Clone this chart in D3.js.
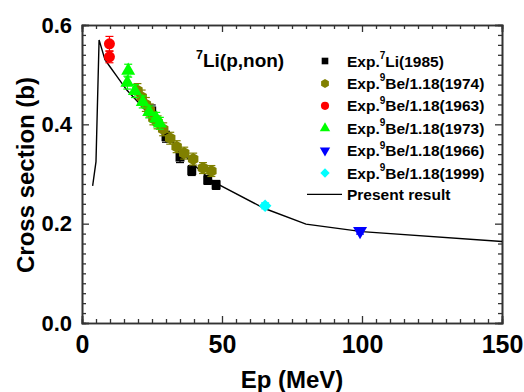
<!DOCTYPE html>
<html>
<head>
<meta charset="utf-8">
<script src="https://cdn.jsdelivr.net/npm/d3@7"></script>
<style>
  html, body { margin: 0; padding: 0; background: #fff; }
  svg { display: block; font-family: "Liberation Sans", Arial, sans-serif; font-weight: bold; }
</style>
</head>
<body>
<div id="chart"></div>
<script>
// present result (calculated curve)
const curveE = [3.8, 5.0, 6.1, 8.2, 10, 12.4, 16, 20, 25, 30, 35, 40, 45, 48, 65, 80, 100, 150];
const curveXS = [0.276, 0.325, 0.570, 0.530, 0.516, 0.497, 0.469, 0.445, 0.413, 0.380, 0.347, 0.318, 0.293, 0.281, 0.231, 0.199, 0.184, 0.164];

// experimental data
const li1985E = [24.9, 30.0, 35.0, 39.2, 44.9, 47.9];
const li1985XS = [0.427, 0.375, 0.334, 0.307, 0.288, 0.278];
const li1985Err = [0.012, 0.011, 0.011, 0.010, 0.009, 0.009];

const be1974E = [19.8, 21.3, 22.8, 24.2, 25.5, 27.0, 29.0, 31.5, 33.8, 36.5, 39.7, 43.2, 46.2];
const be1974XS = [0.468, 0.455, 0.440, 0.428, 0.412, 0.404, 0.390, 0.372, 0.355, 0.342, 0.330, 0.312, 0.306];
const be1974Err = [0.014, 0.014, 0.014, 0.013, 0.013, 0.013, 0.013, 0.012, 0.012, 0.012, 0.012, 0.011, 0.011];

const be1963E = [9.8, 9.8];
const be1963XS = [0.562, 0.536];
const be1963Err = [0.015, 0.012];

const be1973E = [16.5, 16.2, 18.9, 21.7, 24.0, 26.5, 27.8];
const be1973XS = [0.508, 0.484, 0.467, 0.445, 0.425, 0.412, 0.402];
const be1973Err = [0.013, 0.013, 0.013, 0.012, 0.012, 0.012, 0.012];

const be1966E = [99.3];
const be1966XS = [0.185];
const be1966Err = [0.006];

const be1999E = [65.4];
const be1999XS = [0.236];
const be1999Err = [0.006];

const xTicks = [0, 50, 100, 150];
const yTicks = [0.0, 0.2, 0.4, 0.6];

const width = 524, height = 392;
const margin = { left: 82, right: 22, top: 25, bottom: 69 };

const svg = d3.select("#chart").append("svg")
  .attr("width", width)
  .attr("height", height);

const x = d3.scaleLinear().domain([0, 150]).range([margin.left, width - margin.right]);
const y = d3.scaleLinear().domain([0, 0.6]).range([height - margin.bottom, margin.top]);

// custom marker shapes (Origin style)
const hexagon = {
  draw(context, size) {
    const r = Math.sqrt(size / (1.5 * Math.sqrt(3)));
    for (let i = 0; i < 6; i++) {
      const a = Math.PI / 6 + i * Math.PI / 3;
      const px = r * Math.cos(a), py = r * Math.sin(a);
      if (i === 0) context.moveTo(px, py); else context.lineTo(px, py);
    }
    context.closePath();
  }
};
const triDown = {
  draw(context, size) {
    const s = Math.sqrt(size * 4 / Math.sqrt(3));
    const h = s * Math.sqrt(3) / 2;
    context.moveTo(-s / 2, -h / 3);
    context.lineTo(s / 2, -h / 3);
    context.lineTo(0, 2 * h / 3);
    context.closePath();
  }
};
const rhomb = {
  draw(context, size) {
    const r = Math.sqrt(size / 2);
    context.moveTo(0, -r);
    context.lineTo(r, 0);
    context.lineTo(0, r);
    context.lineTo(-r, 0);
    context.closePath();
  }
};

const series = [
  { label: "Li(1985)", sup: "7", E: li1985E, XS: li1985XS, err: li1985Err, color: "#000000", type: d3.symbolSquare, size: 80 },
  { label: "Be/1.18(1974)", sup: "9", E: be1974E, XS: be1974XS, err: be1974Err, color: "#808000", type: hexagon, size: 95 },
  { label: "Be/1.18(1963)", sup: "9", E: be1963E, XS: be1963XS, err: be1963Err, color: "#ff0000", type: d3.symbolCircle, size: 95 },
  { label: "Be/1.18(1973)", sup: "9", E: be1973E, XS: be1973XS, err: be1973Err, color: "#00ff00", type: d3.symbolTriangle, size: 85 },
  { label: "Be/1.18(1966)", sup: "9", E: be1966E, XS: be1966XS, err: be1966Err, color: "#0000ff", type: triDown, size: 85 },
  { label: "Be/1.18(1999)", sup: "9", E: be1999E, XS: be1999XS, err: be1999Err, color: "#00ffff", type: rhomb, size: 80 }
];

// axes with inward ticks on all four sides
function minor(step, lo, hi) {
  return d3.range(lo, hi + step / 2, step).filter(v => Math.abs(v / (step * 10) - Math.round(v / (step * 10))) > 1e-6);
}
const axisG = svg.append("g").attr("class", "axes");

const axBottom = axisG.append("g").attr("transform", `translate(0,${y(0)})`);
axBottom.call(d3.axisBottom(x).tickValues(xTicks).tickSize(-7).tickPadding(12).tickFormat(d3.format("d")));
axBottom.append("g").call(d3.axisBottom(x).tickValues(minor(5, 0, 150)).tickSize(-4).tickFormat(""));

const axTop = axisG.append("g").attr("transform", `translate(0,${y(0.6)})`);
axTop.call(d3.axisTop(x).tickValues(xTicks).tickSize(-7).tickFormat(""));
axTop.append("g").call(d3.axisTop(x).tickValues(minor(5, 0, 150)).tickSize(-4).tickFormat(""));

const axLeft = axisG.append("g").attr("transform", `translate(${x(0)},0)`);
axLeft.call(d3.axisLeft(y).tickValues(yTicks).tickSize(-7).tickPadding(10).tickFormat(d3.format(".1f")));
axLeft.append("g").call(d3.axisLeft(y).tickValues(minor(0.02, 0, 0.6)).tickSize(-4).tickFormat(""));

const axRight = axisG.append("g").attr("transform", `translate(${x(150)},0)`);
axRight.call(d3.axisRight(y).tickValues(yTicks).tickSize(-7).tickFormat(""));
axRight.append("g").call(d3.axisRight(y).tickValues(minor(0.02, 0, 0.6)).tickSize(-4).tickFormat(""));

axisG.selectAll(".domain").attr("stroke", "#333").attr("stroke-width", 1.6);
axisG.selectAll(".tick line").attr("stroke", "#333").attr("stroke-width", 1.3);
axisG.selectAll(".tick text")
  .attr("fill", "#000")
  .attr("font-size", 22)
  .attr("font-weight", "bold")
  .attr("font-family", "'Liberation Sans', Arial, sans-serif");
axBottom.selectAll(".tick text").attr("font-size", 25);

// axis titles
svg.append("text")
  .attr("x", (x(0) + x(150)) / 2)
  .attr("y", 388)
  .attr("text-anchor", "middle")
  .attr("font-size", 24)
  .text("Ep (MeV)");

svg.append("text")
  .attr("transform", `translate(34,${(y(0) + y(0.6)) / 2 + 1}) rotate(-90)`)
  .attr("text-anchor", "middle")
  .attr("font-size", 24)
  .text("Cross section (b)");

// calculated curve
const line = d3.line().x(d => x(d[0])).y(d => y(d[1]));
svg.append("path")
  .datum(d3.zip(curveE, curveXS))
  .attr("d", line)
  .attr("fill", "none")
  .attr("stroke", "#000")
  .attr("stroke-width", 1.4);

// experimental points with error bars
series.forEach(s => {
  const pts = s.E.map((e, i) => ({ e, v: s.XS[i], err: s.err[i] }));
  const g = svg.append("g");
  const eb = g.selectAll("g.eb").data(pts).enter().append("g").attr("class", "eb")
    .attr("stroke", s.color).attr("stroke-width", 1.2);
  eb.append("line")
    .attr("x1", d => x(d.e)).attr("x2", d => x(d.e))
    .attr("y1", d => y(d.v - d.err)).attr("y2", d => y(d.v + d.err));
  eb.append("line")
    .attr("x1", d => x(d.e) - 4).attr("x2", d => x(d.e) + 4)
    .attr("y1", d => y(d.v + d.err)).attr("y2", d => y(d.v + d.err));
  eb.append("line")
    .attr("x1", d => x(d.e) - 4).attr("x2", d => x(d.e) + 4)
    .attr("y1", d => y(d.v - d.err)).attr("y2", d => y(d.v - d.err));
  g.selectAll("path").data(pts).enter().append("path")
    .attr("transform", d => `translate(${x(d.e)},${y(d.v)})`)
    .attr("d", d3.symbol().type(s.type).size(s.size))
    .attr("fill", s.color);
});

// title
const title = svg.append("text").attr("x", 196).attr("y", 67).attr("font-size", 19);
title.append("tspan").attr("font-size", 12.5).attr("dy", -8).text("7");
title.append("tspan").attr("dy", 8).text("Li(p,non)");

// legend
const legend = svg.append("g").attr("transform", "translate(325,61)");
const rowH = 22.4;
series.forEach((s, i) => {
  const row = legend.append("g").attr("transform", `translate(0,${i * rowH})`);
  row.append("path")
    .attr("d", d3.symbol().type(s.type).size(s.size * 0.55))
    .attr("fill", s.color);
  const t = row.append("text").attr("x", 22).attr("y", 5.5).attr("font-size", 15.5);
  t.append("tspan").text("Exp.");
  t.append("tspan").attr("font-size", 10).attr("dy", -7.5).text(s.sup);
  t.append("tspan").attr("dy", 7.5).text(s.label);
});
const lastRow = legend.append("g").attr("transform", `translate(0,${series.length * rowH - 1})`);
lastRow.append("line").attr("x1", -18).attr("x2", 17).attr("stroke", "#000").attr("stroke-width", 1.4);
lastRow.append("text").attr("x", 22).attr("y", 5.5).attr("font-size", 15.5).text("Present result");
</script>
</body>
</html>
